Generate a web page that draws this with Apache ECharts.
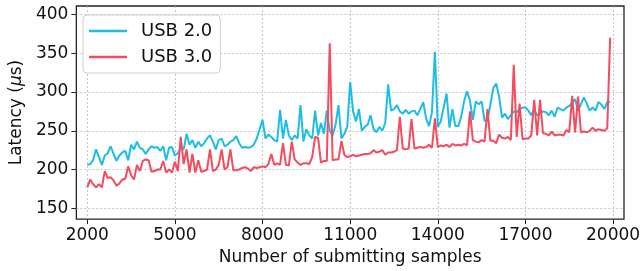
<!DOCTYPE html>
<html>
<head>
<meta charset="utf-8">
<script src="https://cdn.jsdelivr.net/npm/echarts@6/dist/echarts.min.js"></script>
<style>
  html, body { margin: 0; padding: 0; background: #fff; }
  #chart { width: 644px; height: 271px; }
</style>
</head>
<body>
<div id="chart"></div>
<script>
// number of submitting samples: 2000, 2100, ... 19900
const samples = [];
for (let s = 2000; s <= 19900; s += 100) samples.push(s);

const xTicks = [2000, 5000, 8000, 11000, 14000, 17000, 20000];
const yTicks = [150, 200, 250, 300, 350, 400];

// latency (us)
const usb2 = [
  206, 207, 212, 226, 216, 206, 218, 221, 230, 220,
  211, 218, 222, 224, 212, 232, 226, 236, 228, 226,
  220, 226, 230, 228, 229, 224, 230, 212, 228, 229,
  218, 221, 228, 226, 246, 232, 238, 228, 236, 230,
  234, 240, 244, 236, 226, 238, 240, 230, 232, 236,
  238, 243, 234, 228, 229, 228, 229, 232, 240, 252,
  264, 240, 245, 242, 238, 236, 277, 240, 264, 244,
  238, 244, 240, 283, 236, 252, 244, 240, 276, 244,
  260, 246, 276, 250, 244, 258, 283, 240, 246, 255,
  313, 275, 262, 278, 250, 255, 258, 270, 252, 248,
  255, 250, 260, 310, 276, 278, 283, 275, 272, 277,
  272, 275, 276, 270, 278, 287, 266, 256, 274, 352,
  255, 262, 280, 298, 254, 278, 256, 256, 268, 288,
  301, 289, 264, 288, 284, 288, 263, 263, 284, 305,
  311, 294, 267, 272, 265, 270, 275, 274, 278, 280,
  280, 276, 270, 278, 270, 272, 275, 274, 270, 276,
  268, 280, 278, 276, 280, 282, 286, 291, 276, 284,
  293, 285, 276, 280, 276, 287, 284, 278, 287, 287
];

const usb3 = [
  177, 187, 181, 177, 181, 177, 198, 189, 190, 186,
  179, 182, 187, 188, 204, 193, 187, 206, 198, 211,
  213, 212, 197, 198, 200, 200, 211, 196, 200, 196,
  210, 198, 242, 207, 226, 196, 220, 196, 212, 197,
  198, 200, 226, 198, 200, 206, 226, 200, 203, 226,
  199, 199, 200, 202, 203, 201, 198, 203, 202, 203,
  204, 203, 207, 220, 206, 208, 206, 234, 206, 205,
  236, 213, 209, 206, 208, 208, 207, 216, 242, 241,
  209, 211, 211, 363, 212, 213, 213, 237, 219, 216,
  217, 219, 217, 218, 219, 220, 220, 221, 225, 222,
  223, 225, 219, 222, 222, 223, 225, 268, 227, 226,
  227, 265, 227, 228, 229, 228, 229, 232, 228, 266,
  229, 231, 230, 232, 229, 233, 231, 232, 231, 233,
  231, 275, 238, 236, 235, 238, 236, 278, 237, 237,
  234, 245, 241, 240, 242, 238, 335, 242, 285, 239,
  240, 240, 244, 290, 244, 290, 247, 246, 244, 249,
  244, 245, 245, 244, 251, 248, 295, 248, 294, 248,
  249, 248, 250, 254, 250, 252, 251, 250, 253, 370
];

const font = 'DejaVu Sans';
const blue = '#1cbde6';
const red = '#f54b5e';

let chart = echarts.init(document.getElementById('chart'), null, { renderer: 'canvas' });

chart.setOption({
  animation: false,
  textStyle: { fontFamily: font },
  grid: {
    left: 73, right: 20, top: 6, bottom: 42,
    show: true, borderColor: '#222', borderWidth: 1.3,
    backgroundColor: 'transparent'
  },
  legend: {
    left: 83, top: 15,
    orient: 'vertical',
    itemWidth: 38, itemHeight: 2.5, itemGap: 8,
    icon: 'rect',
    padding: [7, 8, 7, 6],
    backgroundColor: 'rgba(255,255,255,0.85)',
    borderColor: '#d0d0d0', borderWidth: 1, borderRadius: 4,
    textStyle: { fontFamily: font, fontSize: 18, color: '#111', padding: [0, 0, 0, 9] },
    data: ['USB 2.0', 'USB 3.0']
  },
  xAxis: {
    type: 'value',
    min: 1626, max: 20374,
    name: 'Number of submitting samples',
    nameLocation: 'middle', nameGap: 29,
    nameTextStyle: { fontFamily: font, fontSize: 17, color: '#111' },
    axisLine: { show: false },
    axisTick: { show: true, length: 5, lineStyle: { color: '#222' }, customValues: xTicks },
    axisLabel: {
      fontFamily: font, fontSize: 17, color: '#111', margin: 8,
      customValues: xTicks,
      formatter: v => String(v)
    },
    splitLine: { show: true, lineStyle: { color: '#b8b8b8', type: [2, 2], width: 0.8 } }
  },
  yAxis: {
    type: 'value',
    min: 136, max: 411,
    name: '{n|Latency (}{i|μ}{n|s)}',
    nameLocation: 'middle', nameGap: 46, nameRotate: 90,
    nameTextStyle: {
      rich: {
        n: { fontFamily: font, fontSize: 17, color: '#111' },
        i: { fontFamily: font, fontSize: 17, color: '#111', fontStyle: 'italic' }
      }
    },
    axisLine: { show: false },
    axisTick: { show: true, length: 5, lineStyle: { color: '#222' }, customValues: yTicks },
    axisLabel: {
      fontFamily: font, fontSize: 17, color: '#111', margin: 8,
      customValues: yTicks,
      formatter: v => String(v)
    },
    splitLine: { show: true, lineStyle: { color: '#b8b8b8', type: [2, 2], width: 0.8 } }
  },
  series: [
    {
      name: 'USB 2.0', type: 'line', symbol: 'none',
      color: blue,
      lineStyle: { width: 2, color: blue },
      data: samples.map((s, k) => [s, usb2[k]])
    },
    {
      name: 'USB 3.0', type: 'line', symbol: 'none',
      color: red,
      lineStyle: { width: 2, color: red },
      data: samples.map((s, k) => [s, usb3[k]])
    }
  ]
});
</script>
</body>
</html>
